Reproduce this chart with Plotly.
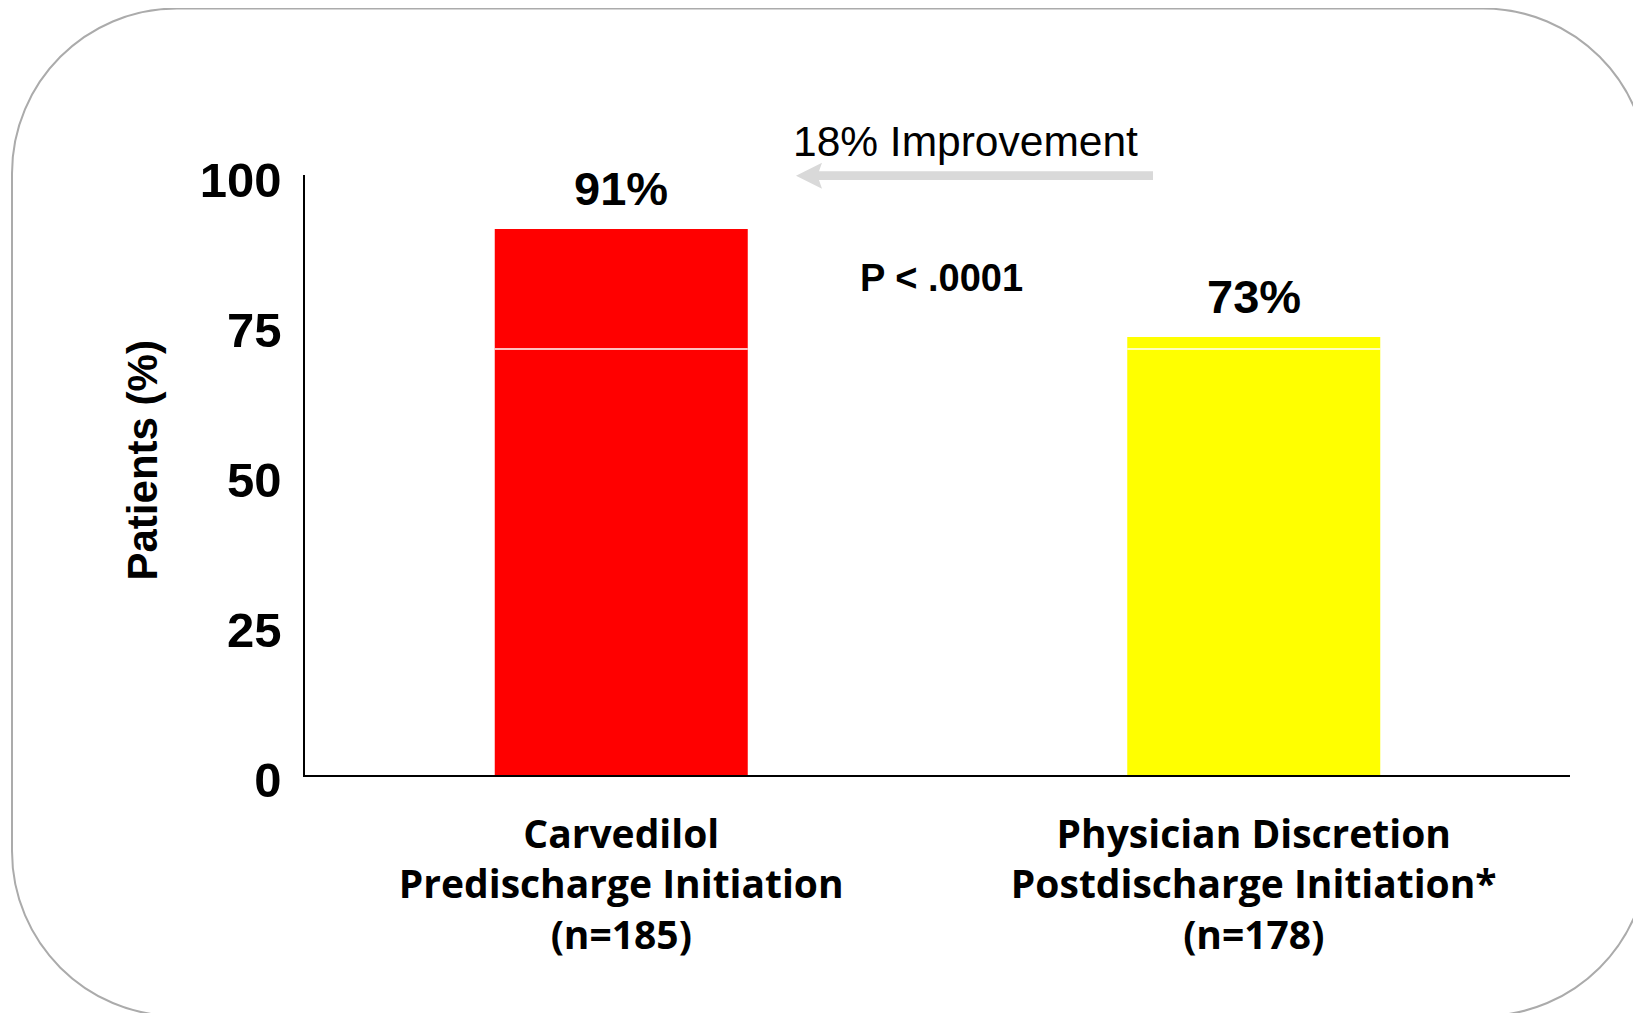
import plotly.graph_objects as go

# ---- data ----
categories = [
    "Carvedilol<br>Predischarge Initiation<br>(n=185)",
    "Physician Discretion<br>Postdischarge Initiation*<br>(n=178)",
]
values = [91, 73]
bar_colors = ["#ff0000", "#ffff00"]
y_ticks = [0, 25, 50, 75, 100]
divider_value = 71
p_text = "P < .0001"
improvement_text = "18% Improvement"
y_title = "Patients (%)"

# page body has an 8px margin; figure sized to fill the rest of the window
OFF = 8
W, H = 1633, 1005
ML, MR, MT, MB = 297, 71, 167, 238
PW = W - ML - MR
PH = H - MT - MB


def px(xs):
    """screen x -> paper x"""
    return (xs - OFF - ML) / PW


def py(ys):
    """screen y -> paper y"""
    return (H - MB - (ys - OFF)) / PH


fig = go.Figure()
fig.add_trace(go.Bar(
    x=[0, 1], y=values, width=0.4,
    marker=dict(color=bar_colors, line=dict(width=0)),
    hoverinfo="skip", showlegend=False,
))

annotations = []
for i, v in enumerate(values):
    annotations.append(dict(
        x=i, y=v, xref="x", yref="y", text=f"{v}%", showarrow=False,
        yanchor="middle", yshift=41,
        font=dict(family="Arial, Liberation Sans", size=47, color="#000000", weight="bold"),
    ))

annotations.append(dict(
    x=px(941), y=py(278), xref="paper", yref="paper", text=p_text, showarrow=False,
    xanchor="center", yanchor="middle",
    font=dict(family="Arial, Liberation Sans", size=38, color="#000000", weight="bold"),
))
annotations.append(dict(
    x=px(965), y=py(141), xref="paper", yref="paper", text=improvement_text,
    showarrow=False, xanchor="center", yanchor="middle",
    font=dict(family="Arial, Liberation Sans", size=42.5, color="#000000"),
))
annotations.append(dict(
    x=px(141.5), y=py(461), xref="paper", yref="paper", text=y_title, showarrow=False,
    textangle=-90, xanchor="center", yanchor="middle",
    font=dict(family="Arial, Liberation Sans", size=42, color="#000000", weight="bold"),
))


def P(a, b):
    return f"{px(a):.5f},{py(b):.5f}"


def path_from(points):
    return "M " + " L ".join(P(a, b) for a, b in points) + " Z"


shapes = []
# arrow (decorative)
arrow_pts = [(796, 175.7), (822, 162.7), (819, 171.3), (1153, 171.3),
             (1153, 179.9), (819, 179.9), (822, 188.7)]
shapes.append(dict(type="path", xref="paper", yref="paper", path=path_from(arrow_pts),
                   fillcolor="#d9d9d9", line=dict(width=0), layer="above"))

# white divider line across bars
for c in (0, 1):
    shapes.append(dict(type="line", xref="x", yref="y", x0=c - 0.2, x1=c + 0.2,
                       y0=divider_value, y1=divider_value,
                       line=dict(color="white", width=1.5), layer="above"))

# rounded border
L, T, R, B, r = 12, 8.5, 1648, 1016, 165
k = 0.5523 * r
border = (
    f"M {P(L + r, T)} L {P(R - r, T)} "
    f"C {P(R - r + k, T)} {P(R, T + r - k)} {P(R, T + r)} "
    f"L {P(R, B - r)} "
    f"C {P(R, B - r + k)} {P(R - r + k, B)} {P(R - r, B)} "
    f"L {P(L + r, B)} "
    f"C {P(L + r - k, B)} {P(L, B - r + k)} {P(L, B - r)} "
    f"L {P(L, T + r)} "
    f"C {P(L, T + r - k)} {P(L + r - k, T)} {P(L + r, T)} Z"
)
shapes.append(dict(type="path", xref="paper", yref="paper", path=border,
                   line=dict(color="#ababab", width=2), fillcolor="rgba(0,0,0,0)", layer="below"))

fig.update_layout(
    width=W, height=H,
    margin=dict(l=ML, r=MR, t=MT, b=MB, autoexpand=False),
    paper_bgcolor="white", plot_bgcolor="white",
    showlegend=False,
    annotations=annotations,
    shapes=shapes,
    xaxis=dict(
        range=[-0.5, 1.5], tickmode="array", tickvals=[0, 1], ticktext=categories,
        showgrid=False, zeroline=False, showline=True, linecolor="#000000", linewidth=1.5,
        ticks="", ticklabelstandoff=24,
        tickfont=dict(family="Open Sans", size=39, color="#000000", weight="bold"),
        fixedrange=True,
    ),
    yaxis=dict(
        range=[0, 100], tickmode="array", tickvals=y_ticks,
        showgrid=False, zeroline=False, showline=True, linecolor="#000000", linewidth=1.5,
        ticks="", ticklabelstandoff=12, ticklabelshift=5,
        tickfont=dict(family="Arial, Liberation Sans", size=49, color="#000000", weight="bold"),
        fixedrange=True,
    ),
)

fig.write_html("out.html")
